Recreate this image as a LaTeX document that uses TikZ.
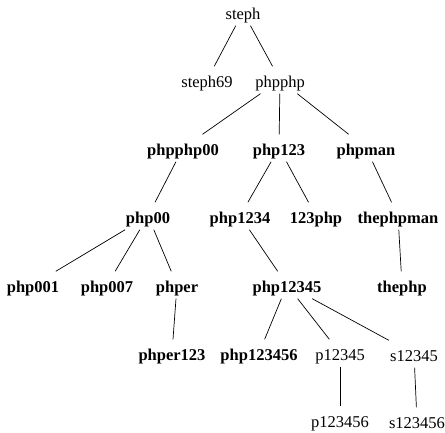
\documentclass[tikz,border=0pt]{standalone}
\usepackage{fontspec}
\setmainfont{Liberation Serif}
\begin{document}
\begin{tikzpicture}[x=1pt,y=-1pt,
  every node/.style={inner xsep=2pt,inner ysep=6.25pt,text height=14.5pt,text depth=0pt,font=\fontsize{16.5}{19}\selectfont},
  bnode/.style={font=\fontsize{16.5}{19}\selectfont\bfseries},
  link/.style={draw=black,line width=0.7pt}]
\useasboundingbox (0,0) rectangle (445,433);
\node (steph) at (243,12) {steph};
\node (steph69) at (207,80) {steph69};
\node (phpphp) at (280,80) {phpphp};
\node[bnode] (phpphp00) at (183,148) {phpphp00};
\node[bnode] (php123) at (279,148) {php123};
\node[bnode] (phpman) at (366,148) {phpman};
\node[bnode] (php00) at (148,216) {php00};
\node[bnode] (php1234) at (240,216) {php1234};
\node[bnode] (123php) at (316,216) {123php};
\node[bnode] (thephpman) at (398,216) {thephpman};
\node[bnode] (php001) at (33,285) {php001};
\node[bnode] (php007) at (107,285) {php007};
\node[bnode] (phper) at (177,285) {phper};
\node[bnode] (php12345) at (287,285) {php12345};
\node[bnode] (thephp) at (402,285) {thephp};
\node[bnode] (phper123) at (172,353) {phper123};
\node[bnode] (php123456) at (259,353) {php123456};
\node (p12345) at (340,353) {p12345};
\node (s12345) at (414,354) {s12345};
\node (p123456) at (340,420) {p123456};
\node (s123456) at (417,421) {s123456};
\draw[link] (steph) -- (steph69);
\draw[link] (steph) -- (phpphp);
\draw[link] (phpphp) -- (phpphp00);
\draw[link] (phpphp) -- (php123);
\draw[link] (phpphp) -- (phpman);
\draw[link] (phpphp00) -- (php00);
\draw[link] (php123) -- (php1234);
\draw[link] (php123) -- (123php);
\draw[link] (phpman) -- (thephpman);
\draw[link] (php00) -- (php001);
\draw[link] (php00) -- (php007);
\draw[link] (php00) -- (phper);
\draw[link] (php1234) -- (php12345);
\draw[link] (thephpman) -- (thephp);
\draw[link] (phper) -- (phper123);
\draw[link] (php12345) -- (php123456);
\draw[link] (php12345) -- (p12345);
\draw[link] (php12345) -- (s12345);
\draw[link] (p12345) -- (p123456);
\draw[link] (s12345) -- (s123456);
\end{tikzpicture}
\end{document}
